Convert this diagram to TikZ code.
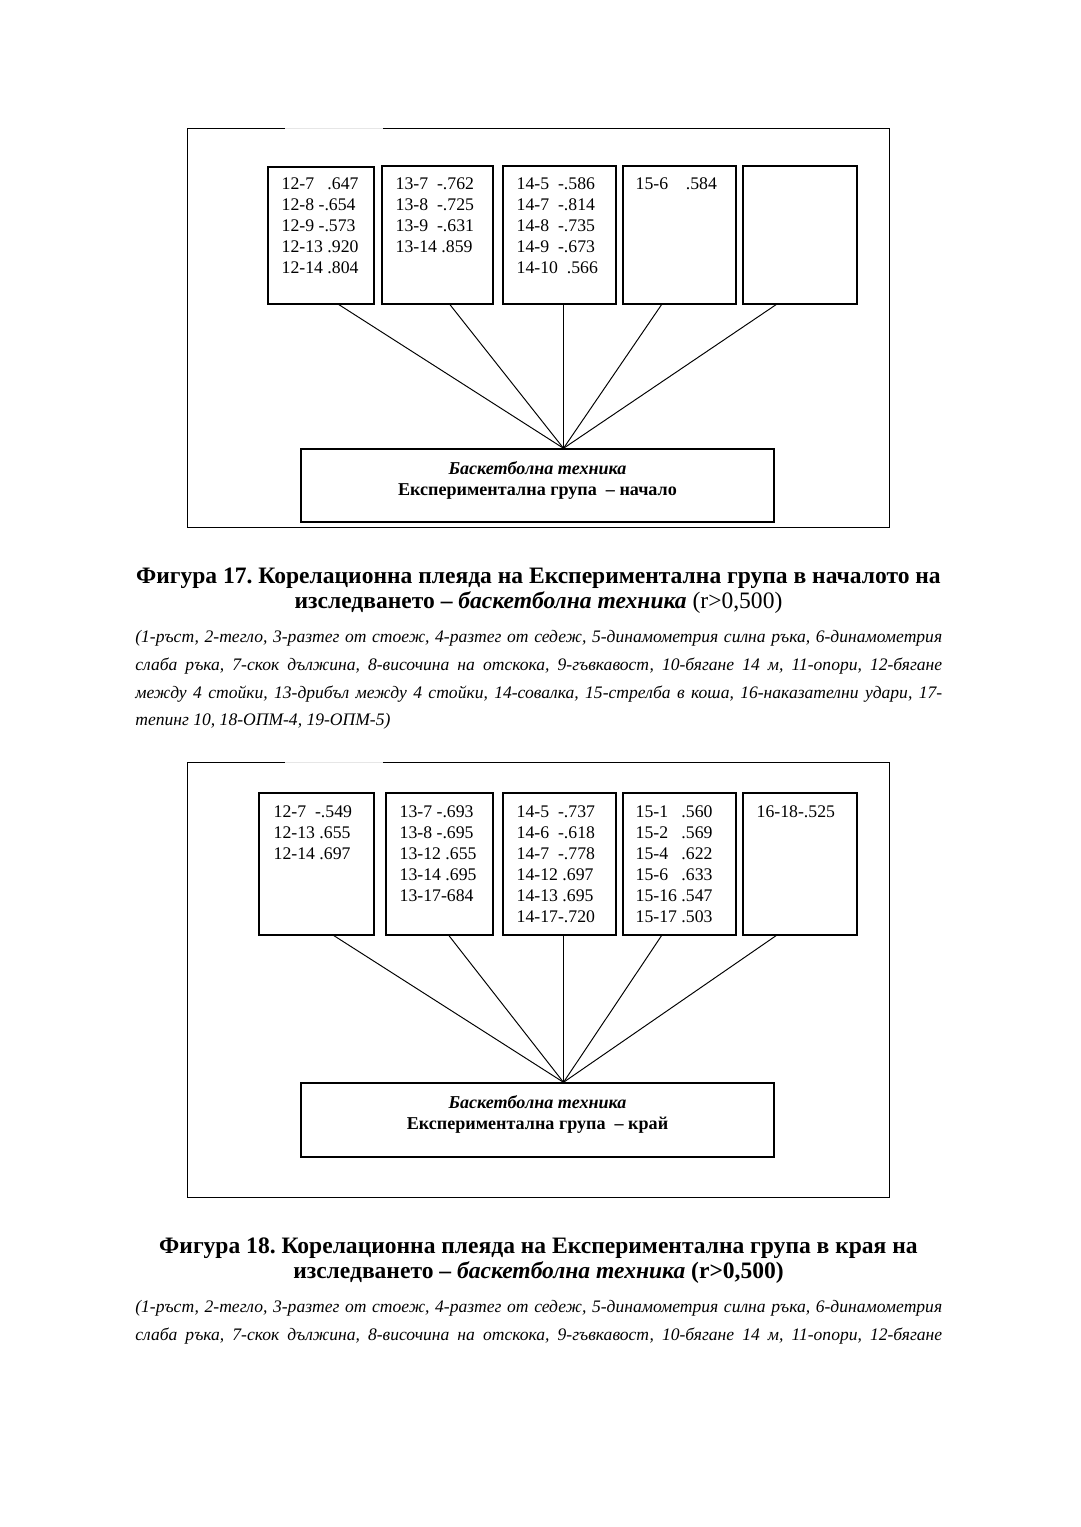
\documentclass[tikz,border=0pt]{standalone}
\usepackage{fontspec}
\setmainfont{Liberation Serif}
\frenchspacing
\definecolor{tinta}{HTML}{000000}
\definecolor{papel}{HTML}{FFFFFF}
\definecolor{hueco}{HTML}{E6E6E6}
\usetikzlibrary{
	positioning,
	calc,
	fit
}
\tikzset{
	marco/.style={
		draw=tinta,
		line width=0.5pt
	},
	celda/.style={
		draw=tinta,
		line width=0.8pt,
		inner sep=0pt
	},
	valores/.style={
		anchor=north west,
		align=left,
		inner sep=0pt,
		font=\fontsize{10.1}{12}\selectfont
	},
	tema/.style={
		draw=tinta,
		line width=0.8pt,
		inner sep=0pt
	},
	temaTexto/.style={
		anchor=north,
		align=center,
		inner sep=0pt,
		font=\fontsize{10.3}{12.1}\selectfont\bfseries
	},
	enlace/.style={
		draw=tinta,
		line width=0.55pt
	},
	titulo/.style={
		align=center,
		inner sep=0pt,
		font=\fontsize{13.4}{14.2}\selectfont\bfseries
	},
	leyenda/.style={
		anchor=north west,
		align=justify,
		inner sep=0pt,
		text width=16.14cm,
		font=\fontsize{10}{15.8}\selectfont\itshape
	}
}

\begin{document}
\begin{tikzpicture}[x=0.02cm,y=-0.02cm]
	\fill[papel] (0,0) rectangle (1080,1527);
	\useasboundingbox (0,0) rectangle (1080,1527);
	% Фигура 17
	\draw[marco] (285,128) -- (187,128) -- (187,527) -- (889,527) -- (889,128) -- (383,128);
	\draw[hueco, line width=0.4pt] (285,128) -- (383,128);
	\node[celda, fit={(268,167) (374,304)}] (a1) {};
	\node[celda, fit={(382,166) (493,304)}] (a2) {};
	\node[celda, fit={(503,166) (616,304)}] (a3) {};
	\node[celda, fit={(623,166) (736,304)}] (a4) {};
	\node[celda, fit={(743,166) (857,304)}] (a5) {};
	\node[valores] (v1) at ([shift={(14,11)}]a1.north west) {12-7~~~.647\\12-8 -.654\\12-9 -.573\\12-13 .920\\12-14 .804};
	\node[valores] (v2) at ([shift={(14,12)}]a2.north west) {13-7~~-.762\\13-8~~-.725\\13-9~~-.631\\13-14 .859};
	\node[valores] (v3) at ([shift={(14,12)}]a3.north west) {14-5~~-.586\\14-7~~-.814\\14-8~~-.735\\14-9~~-.673\\14-10~~.566};
	\node[valores] (v4) at ([shift={(13,12)}]a4.north west) {15-6~~~~.584};
	\node[tema, fit={(301,449) (774,522)}] (t1) {};
	\node[temaTexto] (x1) at ([shift={(0,13)}]t1.north) {\textit{Баскетболна техника}\\Експериментална група \ – начало};
	\coordinate (h1) at ([shift={(26,0)}]t1.north);
	\foreach \c/\d in {a1/18, a2/12.5, a3/4, a4/-18, a5/-24}
		\draw[enlace] ([shift={(\d,0)}]\c.south) -- (h1);
	\node[titulo] (c1) at (538.5,590.5) {Фигура 17. Корелационна плеяда на Експериментална група в началото на\\изследването – \textit{баскетболна техника} \textmd{(r>0,500)}};
	\node[leyenda] (l1) at (135,630) {(1-ръст, 2-тегло, 3-разтег от стоеж, 4-разтег от седеж, 5-динамометрия силна ръка, 6-динамометрия\linebreak слаба ръка, 7-скок дължина, 8-височина на отскока, 9-гъвкавост, 10-бягане 14 м, 11-опори, 12-бягане\linebreak между 4 стойки, 13-дрибъл между 4 стойки, 14-совалка, 15-стрелба в коша, 16-наказателни удари, 17-\linebreak тепинг 10, 18-ОПМ-4, 19-ОПМ-5)};
	% Фигура 18
	\draw[marco] (285,762) -- (187,762) -- (187,1197) -- (889,1197) -- (889,762) -- (383,762);
	\draw[hueco, line width=0.4pt] (285,762) -- (383,762);
	\node[celda, fit={(259,793) (374,935)}] (b1) {};
	\node[celda, fit={(386,793) (493,935)}] (b2) {};
	\node[celda, fit={(503,793) (616,935)}] (b3) {};
	\node[celda, fit={(623,793) (736,935)}] (b4) {};
	\node[celda, fit={(743,793) (857,935)}] (b5) {};
	\node[valores] (w1) at ([shift={(15,13)}]b1.north west) {12-7~~-.549\\12-13 .655\\12-14 .697};
	\node[valores] (w2) at ([shift={(14,13)}]b2.north west) {13-7 -.693\\13-8 -.695\\13-12 .655\\13-14 .695\\13-17-684};
	\node[valores] (w3) at ([shift={(14,13)}]b3.north west) {14-5~~-.737\\14-6~~-.618\\14-7~~-.778\\14-12 .697\\14-13 .695\\14-17-.720};
	\node[valores] (w4) at ([shift={(13,13)}]b4.north west) {15-1~~~.560\\15-2~~~.569\\15-4~~~.622\\15-6~~~.633\\15-16 .547\\15-17 .503};
	\node[valores] (w5) at ([shift={(14,13)}]b5.north west) {16-18-.525};
	\node[tema, fit={(301,1083) (774,1157)}] (t2) {};
	\node[temaTexto] (x2) at ([shift={(0,13)}]t2.north) {\textit{Баскетболна техника}\\Експериментална група \ – край};
	\coordinate (h2) at ([shift={(26,0)}]t2.north);
	\foreach \c/\d in {b1/17.5, b2/9.5, b3/4, b4/-18, b5/-24}
		\draw[enlace] ([shift={(\d,0)}]\c.south) -- (h2);
	\node[titulo] (c2) at (538.5,1261) {Фигура 18. Корелационна плеяда на Експериментална група в края на\\изследването – \textit{баскетболна техника} (r>0,500)};
	\node[leyenda] (l2) at (135,1300) {(1-ръст, 2-тегло, 3-разтег от стоеж, 4-разтег от седеж, 5-динамометрия силна ръка, 6-динамометрия\linebreak слаба ръка, 7-скок дължина, 8-височина на отскока, 9-гъвкавост, 10-бягане 14 м, 11-опори, 12-бягане\parfillskip=0pt\par};
\end{tikzpicture}
\end{document}
